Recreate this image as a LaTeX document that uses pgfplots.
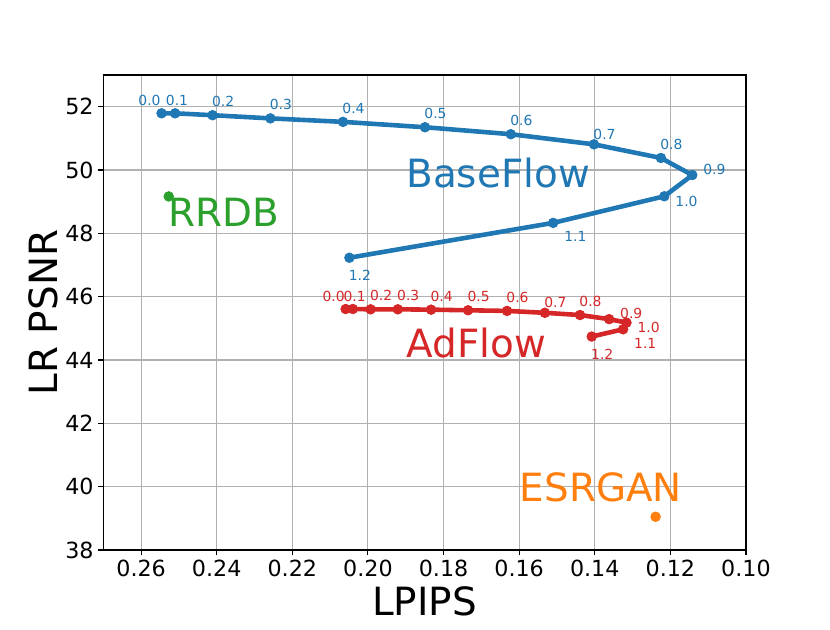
\documentclass[border=0pt]{standalone}
\usepackage{fontspec}
\setmainfont{DejaVu Sans}
\usepackage{pgfplots}
\pgfplotsset{compat=1.18}
\definecolor{tblue}{HTML}{1F77B4}
\definecolor{torange}{HTML}{FF7F0E}
\definecolor{tgreen}{HTML}{2CA02C}
\definecolor{tred}{HTML}{D62728}
\definecolor{gridc}{HTML}{B0B0B0}
\begin{document}
\begin{tikzpicture}[
  lbl/.style={anchor=base west, inner sep=0pt, font=\fontsize{10}{12}\selectfont},
  o0/.style={xshift=-16.8pt, yshift=5.6pt},
  o1/.style={xshift=-6.8pt, yshift=5.6pt},
  oa/.style={xshift=-0.6pt, yshift=6.1pt},
  o7/.style={xshift=-0.6pt, yshift=3.5pt},
  o9/.style={xshift=7.8pt, yshift=0.4pt},
  o10/.style={xshift=7.8pt, yshift=-7.2pt},
  o11/.style={xshift=7.8pt, yshift=-13.5pt},
  o12/.style={xshift=-0.6pt, yshift=-16.6pt},
  big/.style={anchor=base west, inner sep=0pt, font=\fontsize{28}{34}\selectfont},
]
\path[use as bounding box] (-74.4pt,-56.9pt) rectangle (523.2pt,396pt);
\begin{axis}[
  at={(0,0)}, anchor=south west,
  scale only axis, width=462.7pt, height=342pt,
  x dir=reverse,
  xmin=0.10, xmax=0.27, ymin=38, ymax=53,
  xtick={0.10,0.12,0.14,0.16,0.18,0.20,0.22,0.24,0.26},
  ytick={38,40,42,44,46,48,50,52},
  scaled x ticks=false,
  xticklabel style={/pgf/number format/.cd, fixed, fixed zerofill, precision=2},
  /pgf/number format/assume math mode=true,
  ticklabel style={font=\fontsize{16}{19}\selectfont},
  grid=major,
  grid style={color=gridc, line width=0.8pt},
  axis line style={line width=0.8pt},
  tick style={black, line width=0.8pt},
  major tick length=3.5pt,
  tick align=outside,
  xtick pos=bottom, ytick pos=left,
  xlabel={LPIPS}, ylabel={LR PSNR},
  label style={font=\fontsize{28}{34}\selectfont},
  xlabel style={at={(axis description cs:0.5,0)}, anchor=base, yshift=-46.8pt},
  ylabel style={at={(axis description cs:-0.072,0.5)}, anchor=base},
  clip=false,
]
% BaseFlow
\addplot[color=tblue, line width=3.3pt, line join=round, mark=*, mark size=3.5pt, mark options={line width=0.5pt}] coordinates {
(0.2546,51.79) (0.2510,51.79) (0.2411,51.73) (0.2258,51.63) (0.2066,51.52) (0.1849,51.35) (0.1622,51.13) (0.1402,50.81) (0.1225,50.38) (0.1142,49.84) (0.1216,49.17) (0.1510,48.33) (0.2049,47.23)
};
% AdFlow
\addplot[color=tred, line width=3.3pt, line join=round, mark=*, mark size=3.5pt, mark options={line width=0.5pt}] coordinates {
(0.2059,45.61) (0.2040,45.61) (0.1993,45.60) (0.1921,45.60) (0.1833,45.59) (0.1735,45.57) (0.1632,45.55) (0.1532,45.49) (0.1439,45.42) (0.1362,45.29) (0.1316,45.18) (0.1325,44.97) (0.1408,44.74)
};
% RRDB
\addplot[only marks, color=tgreen, mark=*, mark size=3.5pt, mark options={line width=0.5pt}] coordinates {(0.2527,49.165)};
% ESRGAN
\addplot[only marks, color=torange, mark=*, mark size=3.5pt, mark options={line width=0.5pt}] coordinates {(0.1239,39.05)};

% BaseFlow labels
\begin{scope}[every node/.append style={text=tblue}]
\node[lbl,o0] at (axis cs:0.2546,51.79) {0.0};
\node[lbl,o1] at (axis cs:0.2510,51.79) {0.1};
\node[lbl,oa] at (axis cs:0.2411,51.73) {0.2};
\node[lbl,oa] at (axis cs:0.2258,51.63) {0.3};
\node[lbl,oa] at (axis cs:0.2066,51.52) {0.4};
\node[lbl,oa] at (axis cs:0.1849,51.35) {0.5};
\node[lbl,oa] at (axis cs:0.1622,51.13) {0.6};
\node[lbl,o7] at (axis cs:0.1402,50.81) {0.7};
\node[lbl,oa] at (axis cs:0.1225,50.38) {0.8};
\node[lbl,o9] at (axis cs:0.1142,49.84) {0.9};
\node[lbl,o10] at (axis cs:0.1216,49.17) {1.0};
\node[lbl,o11] at (axis cs:0.1510,48.33) {1.1};
\node[lbl,o12] at (axis cs:0.2049,47.23) {1.2};
\node[big] at (axis cs:0.1899,49.46) {BaseFlow};
\end{scope}
% AdFlow labels
\begin{scope}[every node/.append style={text=tred}]
\node[lbl,o0] at (axis cs:0.2059,45.61) {0.0};
\node[lbl,o1] at (axis cs:0.2040,45.61) {0.1};
\node[lbl,oa] at (axis cs:0.1993,45.60) {0.2};
\node[lbl,oa] at (axis cs:0.1921,45.60) {0.3};
\node[lbl,oa] at (axis cs:0.1833,45.59) {0.4};
\node[lbl,oa] at (axis cs:0.1735,45.57) {0.5};
\node[lbl,oa] at (axis cs:0.1632,45.55) {0.6};
\node[lbl,o7] at (axis cs:0.1532,45.49) {0.7};
\node[lbl,oa] at (axis cs:0.1439,45.42) {0.8};
\node[lbl,o9] at (axis cs:0.1362,45.29) {0.9};
\node[lbl,o10] at (axis cs:0.1316,45.18) {1.0};
\node[lbl,o11] at (axis cs:0.1325,44.97) {1.1};
\node[lbl,o12] at (axis cs:0.1408,44.74) {1.2};
\node[big] at (axis cs:0.1898,44.07) {AdFlow};
\end{scope}
\node[big, text=tgreen] at (axis cs:0.2529,48.23) {RRDB};
\node[big, text=torange] at (axis cs:0.1599,39.53) {ESRGAN};
\end{axis}
\end{tikzpicture}
\end{document}
